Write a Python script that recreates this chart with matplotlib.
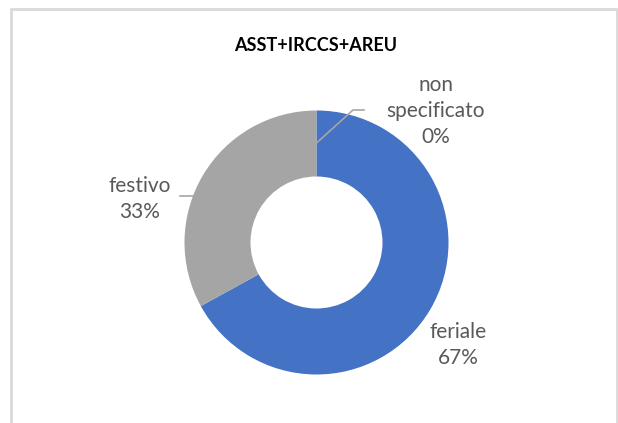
import matplotlib.pyplot as plt

categories = ['feriale', 'festivo', 'non\nspecificato']
values = [67, 33, 0]
colors = ['#4472C4', '#A5A5A5', '#ED7D31']
title = 'ASST+IRCCS+AREU'

W, H = 618, 423
plt.rcParams['font.family'] = ['Lato', 'DejaVu Sans']

fig = plt.figure(figsize=(W / 100, H / 100), dpi=100)
ax = fig.add_axes([0, 0, 1, 1])

# pixel based coords, y measured from the top of the image
def py(y):
    return H - y

cx, cy, r = 316.5, 242.5, 132
ax.pie(values, colors=colors, startangle=90, counterclock=False,
       center=(cx, py(cy)), radius=r,
       wedgeprops=dict(width=r * 0.5, linewidth=0))
ax.set_xlim(0, W)
ax.set_ylim(0, H)
ax.set_aspect('auto')
ax.axis('off')

txt = '#595959'
ax.text(316, py(45), title, ha='center', va='center', fontsize=13,
        fontweight='bold', color='black')

labels = ['%s\n%d%%' % (c, v) for c, v in zip(categories, values)]
fs = 15
ls = 1.35
ax.text(458, py(345), labels[0], ha='center', va='center', fontsize=fs,
        color=txt, multialignment='center', linespacing=ls)
ax.text(140, py(199), labels[1], ha='center', va='center', fontsize=fs,
        color=txt, multialignment='center', linespacing=ls)
ax.text(436, py(111), labels[2], ha='center', va='center', fontsize=fs,
        color=txt, multialignment='center', linespacing=ls)

# leader lines
lc = '#A6A6A6'
ax.plot([316.5, 353, 364], [py(143), py(110), py(110)], color=lc, lw=1.2)
ax.plot([180, 193], [py(196), py(196)], color=lc, lw=1.2)

# chart frame
fc = '#D9D9D9'
ax.plot([11, 11, 616.5, 616.5], [0, py(8.5), py(8.5), 0], color=fc, lw=2,
        solid_joinstyle='miter', clip_on=False)

fig.savefig('out.png', dpi=100, facecolor='white')
